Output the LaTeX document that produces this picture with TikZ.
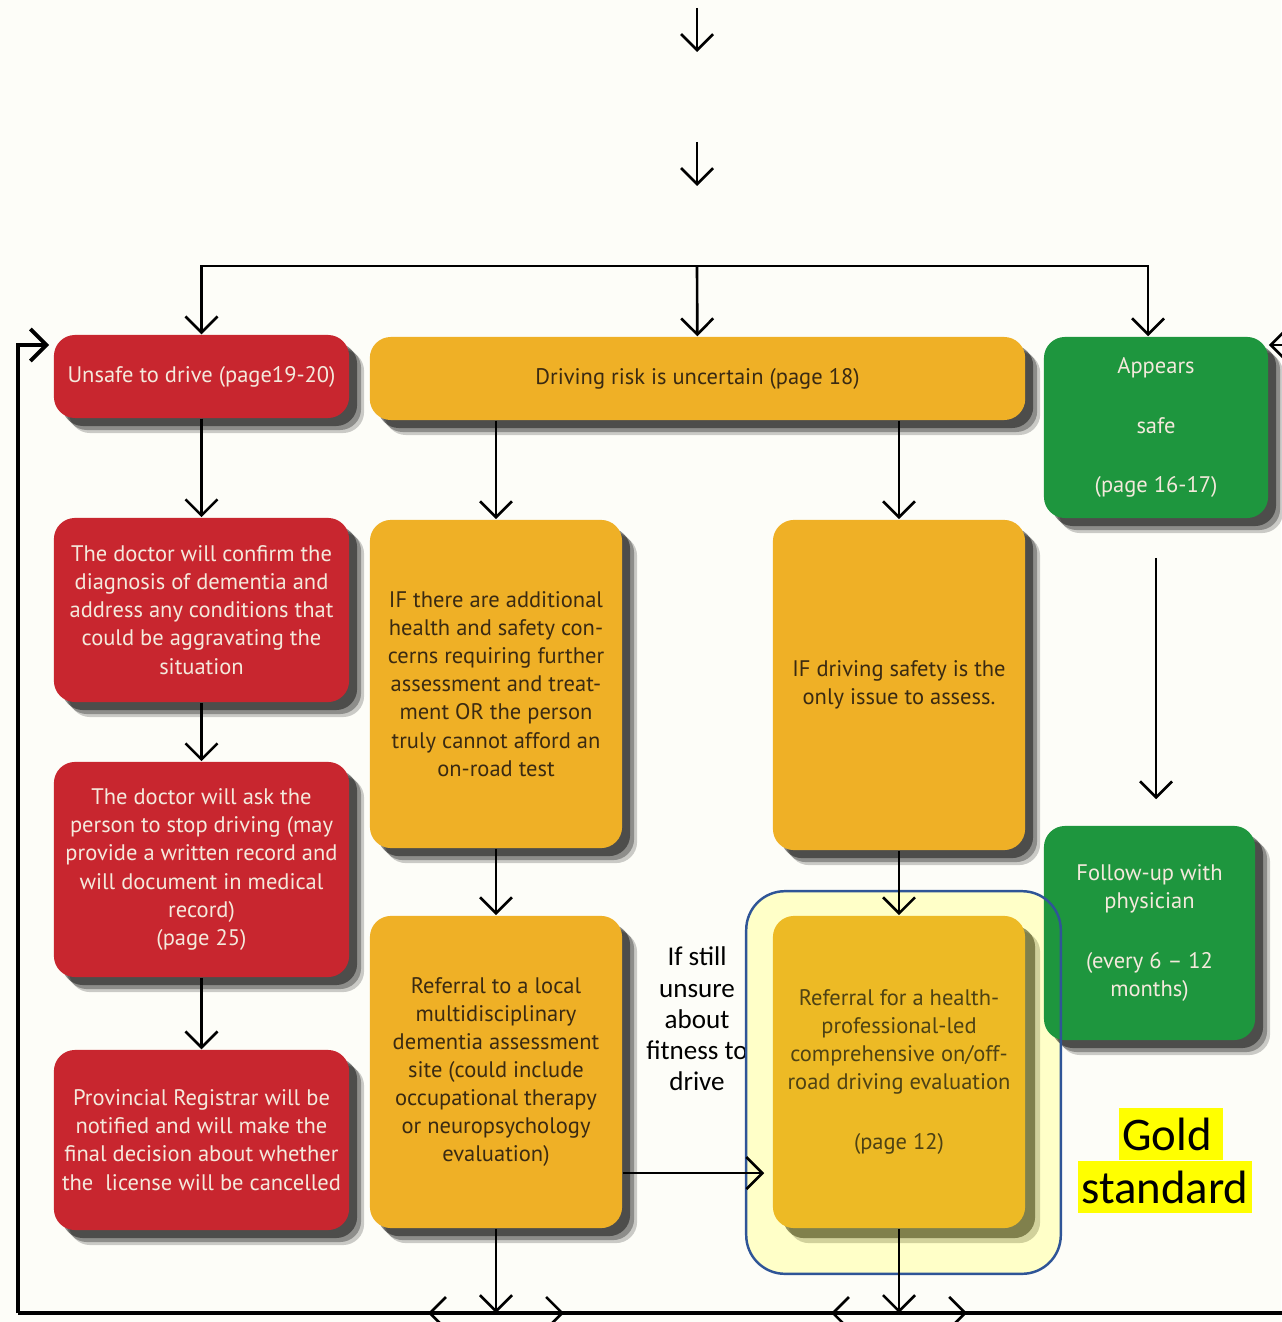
\documentclass[tikz,border=0pt]{standalone}
\usepackage{fontspec}
\setmainfont{PT Sans}
\newfontfamily\calibrifont{Carlito}
\usetikzlibrary{arrows.meta,calc,positioning,shadows}
\definecolor{paper}{HTML}{FDFDF8}
\definecolor{riskRed}{HTML}{C8262F}
\definecolor{riskAmber}{HTML}{EFB026}
\definecolor{riskGold}{HTML}{EDBA25}
\definecolor{riskGreen}{HTML}{1E963E}
\definecolor{lightInk}{HTML}{F4E9DC}
\definecolor{darkInk}{HTML}{3A2A12}
\definecolor{oliveInk}{HTML}{4E4214}
\definecolor{oliveShade}{HTML}{4A4A18}
\definecolor{goldFill}{HTML}{FFFFC8}
\definecolor{goldEdge}{HTML}{2F5597}
\definecolor{markYellow}{HTML}{FFFF00}

\begin{document}
\begin{tikzpicture}[x=0.01cm,y=-0.01cm,
  card/.style={rounded corners=6pt,align=center,inner sep=2pt,
    font=\fontsize{6.4}{8}\selectfont,
    drop shadow={shadow xshift=1.5mm,shadow yshift=-1.5mm,opacity=.2,fill=black},
    drop shadow={shadow xshift=1.2mm,shadow yshift=-1.2mm,opacity=.3,fill=black},
    drop shadow={shadow xshift=0.8mm,shadow yshift=-0.8mm,opacity=.45,fill=black}},
  redcard/.style={card,fill=riskRed,text=lightInk},
  ambercard/.style={card,fill=riskAmber,text=darkInk},
  greencard/.style={card,fill=riskGreen,text=lightInk},
  goldcard/.style={rounded corners=6pt,align=center,inner sep=2pt,
    font=\fontsize{6.4}{8}\selectfont,fill=riskGold,text=oliveInk,
    drop shadow={shadow xshift=1.5mm,shadow yshift=-1.5mm,opacity=.25,fill=oliveShade},
    drop shadow={shadow xshift=1.0mm,shadow yshift=-1.0mm,opacity=.6,fill=oliveShade}},
  arr/.style={-{Straight Barb[length=1.6mm,width=3.2mm]},line width=0.75pt,black},
  loop/.style={line width=1.1pt,black},
  goldfill/.style={rounded corners=11pt,fill=goldFill,draw=none,
    minimum width=3.13cm,minimum height=3.81cm},
  goldline/.style={rounded corners=11pt,draw=goldEdge,line width=0.7pt},
  markbox/.style={fill=markYellow,text=black,inner xsep=1pt,inner ysep=0pt,
    minimum height=0.52cm,font=\calibrifont\fontsize{13.3}{14.8}\selectfont}
]
  \fill[paper] (0,0) rectangle (1281,1322);
  \useasboundingbox (0,0) rectangle (1281,1322);

  % top of the chart
  \coordinate (t1) at (697,8);
  \coordinate (t2) at (697,142);
  \coordinate (fork) at (697,266);
  \draw[arr] (t1) -- ++(0,44);
  \draw[arr] (t2) -- ++(0,44);

  % first row
  \node[redcard,minimum width=2.95cm,minimum height=0.83cm] (unsafe) at (201.5,376.5)
    {Unsafe to drive (page19-20)};
  \node[ambercard,minimum width=6.55cm,minimum height=0.83cm] (uncertain) at (697.5,378.5)
    {Driving risk is uncertain (page 18)};
  \node[greencard,minimum width=2.24cm,minimum height=1.81cm] (safe) at (1156,427.5)
    {Appears\\[9pt]safe\\[9pt](page 16-17)};

  % red column
  \node[redcard,minimum width=2.95cm,minimum height=1.84cm] (confirm) at (201.5,610)
    {The doctor will confirm the\\diagnosis of dementia and\\address any conditions that\\could be aggravating the\\situation};
  \node[redcard,minimum width=2.95cm,minimum height=2.15cm] (askstop) at (201.5,869.5)
    {The doctor will ask the\\person to stop driving (may\\provide a written record and\\will document in medical\\record)\\(page 25)};
  \node[redcard,minimum width=2.95cm,minimum height=1.80cm] (registrar) at (201.5,1140)
    {Provincial Registrar will be\\notified and will make the\\final decision about whether\\the\ \ license will be cancelled};

  % amber columns
  \node[ambercard,minimum width=2.52cm,minimum height=3.28cm] (concerns) at (496,684)
    {IF there are additional\\health and safety con-\\cerns requiring further\\assessment and treat-\\ment OR the person\\truly cannot afford an\\on-road test};
  \node[ambercard,minimum width=2.52cm,minimum height=3.30cm] (onlyissue) at (899,685)
    {IF driving safety is the\\only issue to assess.};
  \node[ambercard,minimum width=2.52cm,minimum height=3.12cm] (localref) at (496,1072)
    {Referral to a local\\multidisciplinary\\dementia assessment\\site (could include\\occupational therapy\\or neuropsychology\\evaluation)};

  \node[align=center,font=\calibrifont\fontsize{7.7}{8.9}\selectfont] (unsure) at (697,1019)
    {If still\\unsure\\about\\fitness to\\drive};

  % gold standard frame
  \node[goldfill] (gold) at (903.5,1082.5) {};
  \node[goldcard,minimum width=2.52cm,minimum height=3.12cm] (roadeval) at (899,1072)
    {Referral for a health-\\professional-led\\comprehensive on/off-\\road driving evaluation\\[9pt](page 12)};
  \node[greencard,minimum width=2.11cm,minimum height=2.14cm] (followup) at (1149.5,933)
    {Follow-up with\\physician\\[9pt](every 6 -- 12\\months)};
  \draw[goldline] (gold.north west) rectangle (gold.south east);
  \node[markbox] (goldA) at (1171,1134) {Gold\,};
  \node[markbox] (goldB) at (1165,1187) {standard};

  % connectors
  \draw[arr] (fork) -| (unsafe);
  \draw[arr] (fork) -- (uncertain);
  \draw[arr] (fork) -| ($(safe.north)+(-8,0)$);
  \draw[arr] (unsafe) -- (confirm);
  \draw[arr] (confirm) -- (askstop);
  \draw[arr] (askstop) -- (registrar);
  \draw[arr] (uncertain.south -| concerns) -- (concerns);
  \draw[arr] (uncertain.south -| onlyissue) -- (onlyissue);
  \draw[arr] (concerns) -- (localref);
  \draw[arr] (onlyissue) -- (roadeval);
  \draw[arr,shorten <=0.39cm,shorten >=0.26cm] (safe) -- (followup.north -| safe);
  \draw[arr,shorten >=0.08cm] ([yshift=-1.01cm]localref.east) -- ([yshift=-1.01cm]roadeval.west);

  % loop back along the bottom
  \coordinate (bl) at (18,1313);
  \coordinate (br) at (1290,1313);
  \coordinate (lt) at (18,345);
  \coordinate (rt) at (1295,345);
  \draw[arr] (localref) -- (localref |- bl);
  \draw[arr] (roadeval) -- (roadeval |- bl);
  \draw[loop] (bl) -- (br);
  \draw[loop,-{Straight Barb[length=1.6mm,width=3.2mm]},shorten >=0.04cm] (bl) -- (lt) -- (lt -| unsafe.west);
  \draw[arr] (rt) -- (rt -| safe.east);
  \draw[arr] (localref |- bl) -- ++(-68,0);
  \draw[arr] (localref |- bl) -- ++(68,0);
  \draw[arr] (roadeval |- bl) -- ++(-68,0);
  \draw[arr] (roadeval |- bl) -- ++(68,0);
\end{tikzpicture}
\end{document}
